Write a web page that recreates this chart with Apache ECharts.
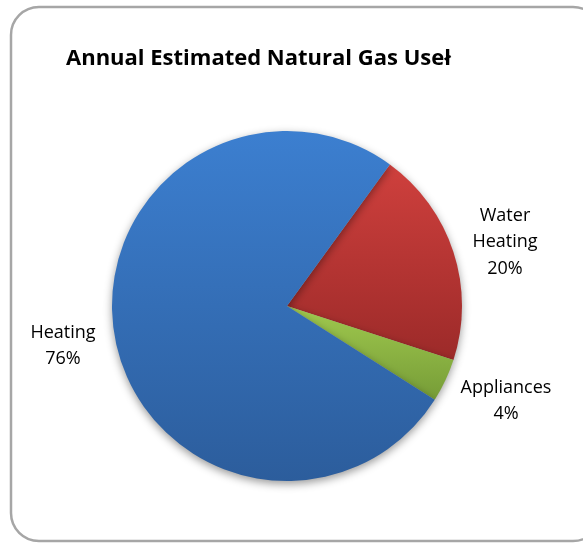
<!DOCTYPE html>
<html><head><meta charset="utf-8">
<script src="https://cdn.jsdelivr.net/npm/echarts@6/dist/echarts.min.js"></script>
<style>html,body{margin:0;padding:0;background:#fff}#c{width:583px;height:543px}</style>
</head><body><div id="c"></div>
<script>
const titleText = 'Annual Estimated Natural Gas Useł';
const categories = ['Water Heating', 'Appliances', 'Heating'];
const labelTexts = ['Water\nHeating\n20%', 'Appliances\n4%', 'Heating\n76%'];
const values = [20, 4, 76];
const topColors = ['#cf403d', '#a0c94e', '#3c7fd0'];
const bottomColors = ['#9c2a29', '#769c37', '#2c5d9c'];
const labelPos = [[505, 242], [506, 401], [63, 346]];

const chart = echarts.init(document.getElementById('c'), null, {renderer: 'canvas'});
const data = categories.map((c, i) => ({
  name: c, value: values[i],
  label: {formatter: labelTexts[i]},
  itemStyle: {color: new echarts.graphic.LinearGradient(0, 0, 0, 1, [
    {offset: 0, color: topColors[i]}, {offset: 1, color: bottomColors[i]}])}
}));
chart.setOption({
  animation: false,
  title: {text: titleText, left: 61, top: 43,
    textStyle: {fontFamily: 'Open Sans', fontWeight: 'bold', fontSize: 22, color: '#000'}},
  graphic: [{type: 'rect', shape: {x: 11, y: 7, width: 590, height: 534, r: 28},
    style: {fill: 'none', stroke: '#a6a6a6', lineWidth: 2.5}, z: -1}],
  series: [{
    type: 'pie', center: [287, 306], radius: 175, startAngle: 54, clockwise: true,
    avoidLabelOverlap: false,
    itemStyle: {shadowBlur: 8, shadowColor: 'rgba(0,0,0,0.4)', shadowOffsetY: 3},
    label: {show: true, position: 'outside', fontFamily: 'Open Sans', fontSize: 18, lineHeight: 26.5,
      color: '#000', align: 'center'},
    labelLine: {show: false},
    labelLayout: function (p) {
      const pos = labelPos[p.dataIndex];
      return {x: pos[0], y: pos[1], align: 'center', verticalAlign: 'middle'};
    },
    emphasis: {disabled: true},
    data: data
  }]
});
</script></body></html>
